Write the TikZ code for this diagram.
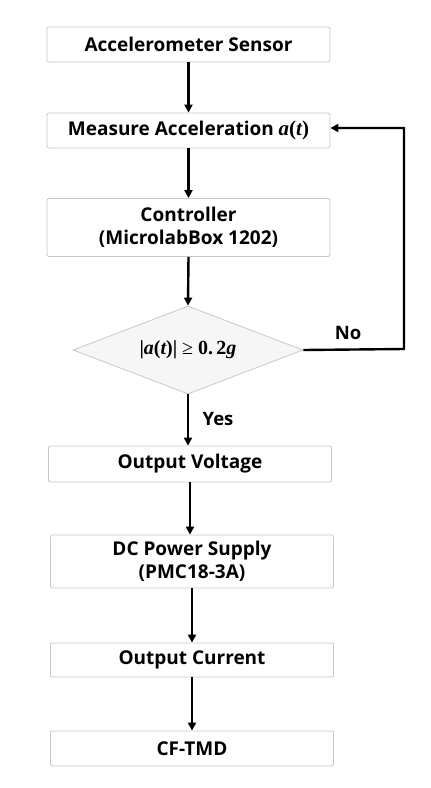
\documentclass[tikz,border=0pt]{standalone}
\usepackage{fontspec}
\setmainfont{Open Sans}
\newfontfamily\mserif{Liberation Serif}
\newcommand{\mi}[1]{{\mserif\bfseries\itshape #1}}
\newcommand{\mn}[1]{{\mserif\bfseries #1}}
\newcommand{\mr}[1]{{\mserif #1}}
\usetikzlibrary{shapes.geometric,arrows.meta}
\definecolor{boxline}{RGB}{200,200,200}
\definecolor{dfill}{RGB}{246,246,246}
\tikzset{
  proc/.style={draw=boxline, line width=0.8pt, fill=white, rounded corners=1.5pt,
    minimum width=283pt, align=center, font=\fontsize{19}{23}\selectfont\bfseries, inner sep=0pt},
  dec/.style={draw=boxline, line width=0.8pt, fill=dfill, diamond, aspect=2.61,
    minimum width=230pt, minimum height=88pt, inner sep=0pt, font=\fontsize{20}{24}\selectfont},
  flow/.style={line width=2.4pt, -{Triangle[length=8pt,width=8pt]}},
  lab/.style={font=\fontsize{18.5}{22}\selectfont\bfseries}
}
\begin{document}
\begin{tikzpicture}[x=1pt,y=-1pt]
\useasboundingbox (0,0) rectangle (431,788);
\node[proc, minimum height=35pt] (s1) at (188.5,44.5) {Accelerometer Sensor};
\node[proc, minimum height=35pt] (s2) at (188.5,130.5) {Measure Acceleration {\fontsize{21}{23}\selectfont\mi{a}\mn{(}\mi{t}\mn{)}}};
\node[proc, minimum height=58pt] (s3) at (188.5,227.5) {Controller\\(MicrolabBox 1202)};
\node[dec] (d) at (188,350) {\mn{|}\mi{a}\mn{(}\mi{t}\mn{)|}\hspace{5pt}\mr{≥}\hspace{5pt}\mn{0.\,2}\mi{g}};
\node[proc, minimum height=36pt] (s4) at (190,464) {Output Voltage};
\node[proc, minimum height=53pt] (s5) at (192,561.5) {DC Power Supply\\(PMC18-3A)};
\node[proc, minimum height=34pt] (s6) at (192,660) {Output Current};
\node[proc, minimum height=35pt] (s7) at (192,748.5) {CF-TMD};
\coordinate (c1) at (404,349);
\coordinate (c2) at (404,128);
\draw[flow] (s1.south) -- (s2.north);
\draw[flow] (s2.south) -- (s3.north);
\draw[flow] (s3.south) -- (d.north);
\draw[flow] (d.south) -- (d.south |- s4.north);
\draw[flow] (s4.south) -- (s4.south |- s5.north);
\draw[flow] (s5.south) -- (s6.north);
\draw[flow] (s6.south) -- (s7.north);
\draw[flow] (d.east) -- (c1) -- (c2) -- (s2.east |- c2);
\node[lab] (no) at (348,333) {No};
\node[lab] (yes) at (218,419) {Yes};
\end{tikzpicture}
\end{document}
